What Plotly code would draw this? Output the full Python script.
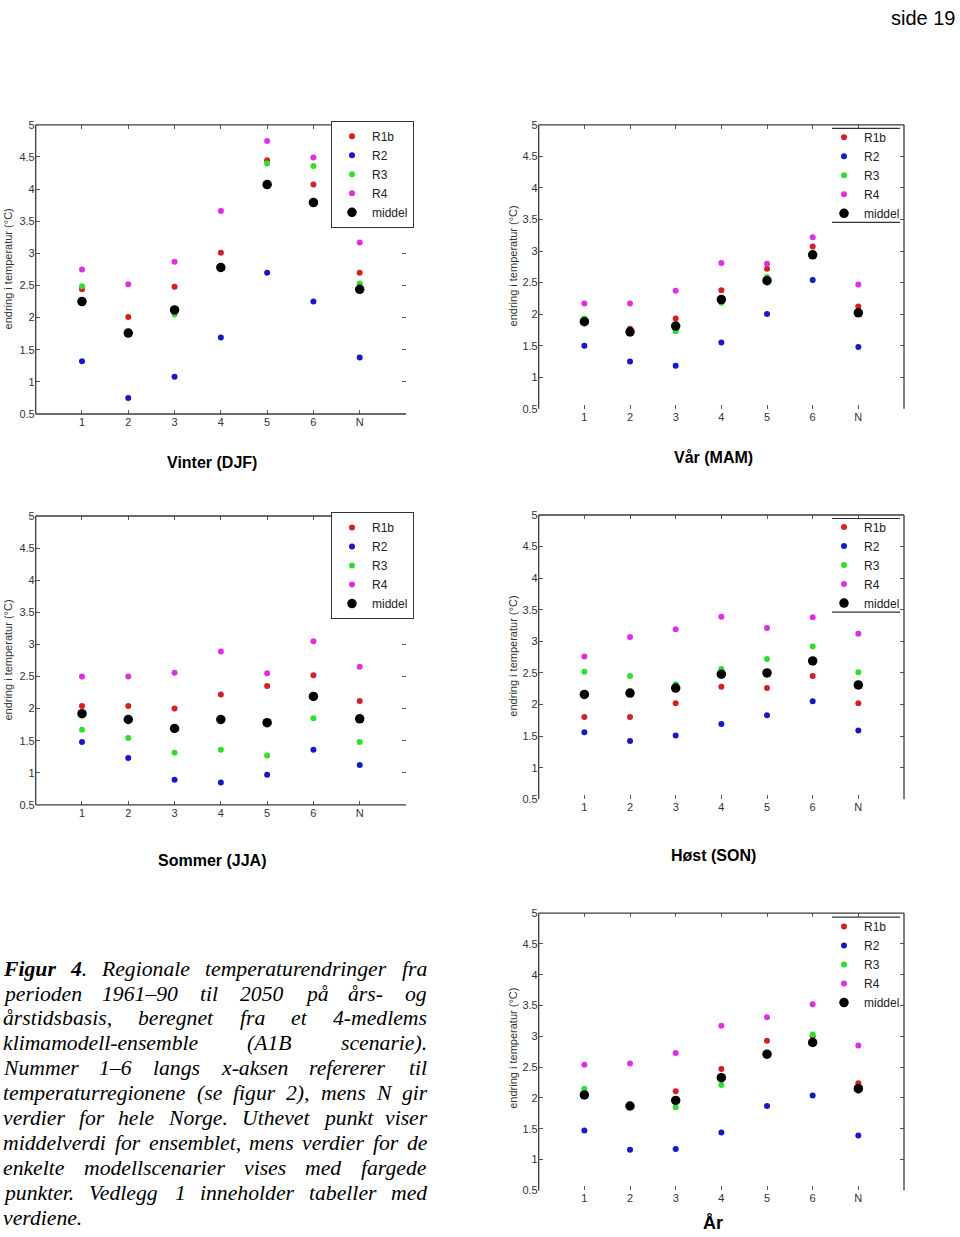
import re
import plotly.graph_objects as go

W, H = 960, 1237

# ---------------- data ----------------
categories = ['1', '2', '3', '4', '5', '6', 'N']
series_names = ['R1b', 'R2', 'R3', 'R4', 'middel']

vinter_R1b = [2.44, 2.01, 2.48, 3.01, 4.45, 4.07, 2.70]
vinter_R2 = [1.32, 0.75, 1.08, 1.69, 2.70, 2.25, 1.38]
vinter_R3 = [2.49, 1.76, 2.05, 2.76, 4.40, 4.36, 2.53]
vinter_R4 = [2.75, 2.52, 2.87, 3.66, 4.75, 4.49, 3.17]
vinter_middel = [2.25, 1.76, 2.12, 2.78, 4.07, 3.79, 2.44]

vaar_R1b = [1.90, 1.77, 1.93, 2.38, 2.72, 3.07, 2.12]
vaar_R2 = [1.50, 1.25, 1.18, 1.55, 2.00, 2.54, 1.48]
vaar_R3 = [1.93, 1.69, 1.73, 2.18, 2.59, 2.93, 2.01]
vaar_R4 = [2.17, 2.17, 2.37, 2.81, 2.80, 3.22, 2.47]
vaar_middel = [1.88, 1.72, 1.81, 2.23, 2.53, 2.94, 2.02]

sommer_R1b = [2.04, 2.04, 2.00, 2.22, 2.35, 2.52, 2.12]
sommer_R2 = [1.48, 1.23, 0.89, 0.85, 0.97, 1.36, 1.12]
sommer_R3 = [1.67, 1.54, 1.31, 1.36, 1.27, 1.85, 1.48]
sommer_R4 = [2.50, 2.50, 2.56, 2.89, 2.55, 3.05, 2.65]
sommer_middel = [1.92, 1.83, 1.69, 1.83, 1.78, 2.19, 1.84]

host_R1b = [1.80, 1.80, 2.02, 2.28, 2.26, 2.45, 2.02]
host_R2 = [1.56, 1.42, 1.51, 1.69, 1.83, 2.05, 1.59]
host_R3 = [2.52, 2.45, 2.32, 2.56, 2.72, 2.92, 2.51]
host_R4 = [2.76, 3.07, 3.19, 3.39, 3.21, 3.38, 3.12]
host_middel = [2.16, 2.18, 2.26, 2.48, 2.50, 2.69, 2.31]

aar_R1b = [2.03, 1.88, 2.11, 2.47, 2.93, 3.00, 2.24]
aar_R2 = [1.47, 1.16, 1.17, 1.44, 1.87, 2.04, 1.39]
aar_R3 = [2.15, 1.88, 1.85, 2.21, 2.73, 3.03, 2.12]
aar_R4 = [2.54, 2.56, 2.73, 3.17, 3.31, 3.52, 2.85]
aar_middel = [2.05, 1.87, 1.96, 2.33, 2.71, 2.90, 2.15]

y_tick_vals = [0.5, 1, 1.5, 2, 2.5, 3, 3.5, 4, 4.5, 5]
y_tick_text = ['0.5', '1', '1.5', '2', '2.5', '3', '3.5', '4', '4.5', '5']
y_title = 'endring i temperatur (°C)'

caption_lines = [
    ['<b>Figur</b>', '<b>4</b>.', 'Regionale', 'temperaturendringer', 'fra'],
    ['perioden', '1961–90', 'til', '2050', 'på', 'års-', 'og'],
    ['årstidsbasis,', 'beregnet', 'fra', 'et', '4-medlems'],
    ['klimamodell-ensemble', '(A1B', 'scenarie).'],
    ['Nummer', '1–6', 'langs', 'x-aksen', 'refererer', 'til'],
    ['temperaturregionene', '(se', 'figur', '2),', 'mens', 'N', 'gir'],
    ['verdier', 'for', 'hele', 'Norge.', 'Uthevet', 'punkt', 'viser'],
    ['middelverdi', 'for', 'ensemblet,', 'mens', 'verdier', 'for', 'de'],
    ['enkelte', 'modellscenarier', 'vises', 'med', 'fargede'],
    ['punkter.', 'Vedlegg', '1', 'inneholder', 'tabeller', 'med'],
    ['verdiene.'],
]

# ---------------- styling ----------------
colors = {'R1b': '#d42020', 'R2': '#1818c8', 'R3': '#2ee02e', 'R4': '#e02ee0', 'middel': '#000000'}
sizes = {'R1b': 6, 'R2': 6, 'R3': 6, 'R4': 6, 'middel': 9.5}


def px_x(x):
    return x / W


def px_y(y):
    return 1 - y / H


panels = [
    dict(title='Vinter (DJF)', series=[vinter_R1b, vinter_R2, vinter_R3, vinter_R4, vinter_middel],
         xd=(35.7, 406), yd=(120, 412), title_pos=(212, 461), title_size=16,
         ytitle_pos=(8, 266), legend=(331, 116), boxed=True, right_line=False, bottom_line=True),
    dict(title='Vår (MAM)', series=[vaar_R1b, vaar_R2, vaar_R3, vaar_R4, vaar_middel],
         xd=(538.7, 904), yd=(120, 406.7), title_pos=(713, 456), title_size=16,
         ytitle_pos=(513, 263), legend=(824, 118), boxed=False, right_line=True, bottom_line=False,
         leg_lines=(832, 900, 123.5, 218.5)),
    dict(title='Sommer (JJA)', series=[sommer_R1b, sommer_R2, sommer_R3, sommer_R4, sommer_middel],
         xd=(35.7, 406), yd=(515, 806.7), title_pos=(212, 863), title_size=16,
         ytitle_pos=(8, 661), legend=(331, 511), boxed=True, right_line=False, bottom_line=True),
    dict(title='Høst (SON)', series=[host_R1b, host_R2, host_R3, host_R4, host_middel],
         xd=(538.7, 904), yd=(514, 801), title_pos=(713, 858), title_size=16,
         ytitle_pos=(513, 657), legend=(824, 511.5), boxed=False, right_line=True, bottom_line=False,
         leg_lines=(832, 900, 517.5, 612)),
    dict(title='År', series=[aar_R1b, aar_R2, aar_R3, aar_R4, aar_middel],
         xd=(538.7, 904), yd=(916, 1196), title_pos=(713, 1229), title_size=18,
         ytitle_pos=(513, 1053), legend=(824, 915), boxed=False, right_line=True, bottom_line=False,
         leg_lines=(832, 900, 920, None)),
]

fig = go.Figure()
xpos = [i + 1 for i in range(len(categories))]
annotations = []
shapes = []
layout_extra = {}

axis_font = dict(family='Liberation Sans, Arial, sans-serif', size=11, color='#333333')
line_color = '#3a3a3a'

for k, p in enumerate(panels):
    n = k + 1
    xa = 'x' if n == 1 else f'x{n}'
    ya = 'y' if n == 1 else f'y{n}'
    leg = 'legend' if n == 1 else f'legend{n}'
    for name, vals in zip(series_names, p['series']):
        fig.add_trace(go.Scatter(
            x=xpos, y=vals, mode='markers', name=name,
            marker=dict(color=colors[name], size=sizes[name], line=dict(width=0)),
            xaxis=xa, yaxis=ya, legend=leg, showlegend=True,
            hovertemplate=name + ': %{y}<extra></extra>'))
    xkey = 'xaxis' if n == 1 else f'xaxis{n}'
    ykey = 'yaxis' if n == 1 else f'yaxis{n}'
    layout_extra[xkey] = dict(
        domain=[px_x(p['xd'][0]), px_x(p['xd'][1])], range=[0, 8], anchor=ya,
        tickmode='array', tickvals=xpos, ticktext=categories,
        ticks='inside', ticklen=4, tickcolor='#555555', tickwidth=1, mirror='ticks',
        showline=False, showgrid=False, zeroline=False, tickfont=axis_font, fixedrange=True)
    layout_extra[ykey] = dict(
        domain=[px_y(p['yd'][1]), px_y(p['yd'][0])], range=[0.5, 5], anchor=xa,
        tickmode='array', tickvals=y_tick_vals, ticktext=y_tick_text,
        ticks='inside', ticklen=4, tickcolor='#555555', tickwidth=1, mirror='ticks',
        showline=False, showgrid=False, zeroline=False, tickfont=axis_font, fixedrange=True)
    # axis box lines
    xr = f'{xa} domain'
    yr = f'{ya} domain'
    segs = [((0, 0), (0, 1)), ((0, 1), (1, 1))]
    if p['bottom_line']:
        segs.append(((0, 0), (1, 0)))
    if p['right_line']:
        segs.append(((1, 0), (1, 1)))
    for (x0, y0), (x1, y1) in segs:
        shapes.append(dict(type='line', xref=xr, yref=yr, x0=x0, y0=y0, x1=x1, y1=y1,
                           line=dict(color=line_color, width=1.3)))
    # legend
    layout_extra[leg] = dict(
        x=px_x(p['legend'][0]), y=px_y(p['legend'][1]), xanchor='left', yanchor='top',
        bgcolor='white' if p['boxed'] else 'rgba(0,0,0,0)',
        bordercolor='#333333', borderwidth=1 if p['boxed'] else 0,
        font=dict(family='Liberation Sans, Arial, sans-serif', size=12, color='#222222'),
        itemsizing='trace', tracegroupgap=0)
    if not p['boxed']:
        lx0, lx1, ly0, ly1 = p['leg_lines']
        for ly in (ly0, ly1):
            if ly is not None:
                shapes.append(dict(type='line', xref='paper', yref='paper',
                                   x0=px_x(lx0), x1=px_x(lx1), y0=px_y(ly), y1=px_y(ly),
                                   line=dict(color='#333333', width=1.2)))
    # titles
    annotations.append(dict(text='<b>' + p['title'] + '</b>', xref='paper', yref='paper',
                            x=px_x(p['title_pos'][0]), y=px_y(p['title_pos'][1]),
                            xanchor='center', yanchor='middle', showarrow=False,
                            font=dict(family='Liberation Sans, Arial, sans-serif',
                                      size=p['title_size'], color='#000000')))
    annotations.append(dict(text=y_title, xref='paper', yref='paper',
                            x=px_x(p['ytitle_pos'][0]), y=px_y(p['ytitle_pos'][1]),
                            xanchor='center', yanchor='middle', showarrow=False, textangle=-90,
                            font=dict(family='Liberation Sans, Arial, sans-serif', size=11,
                                      color='#333333')))

# page number
annotations.append(dict(text='side 19', xref='paper', yref='paper', x=px_x(958), y=px_y(12),
                        xanchor='right', yanchor='middle', showarrow=False,
                        font=dict(family='Liberation Sans, Arial, sans-serif', size=20,
                                  color='#000000')))

# caption, justified word by word (Times italic metrics)
TI = dict(a=500, b=500, c=444, d=500, e=444, f=278, g=500, h=500, i=278, j=278, k=444, l=278,
          m=722, n=500, o=500, p=500, q=500, r=389, s=389, t=278, u=500, v=444, w=667, x=444,
          y=444, z=389, A=611, B=611, C=667, D=722, E=611, F=611, G=722, H=722, I=333, J=444,
          K=667, L=556, M=833, N=667, O=722, P=611, Q=722, R=611, S=500, T=556, U=722, V=611,
          W=833, X=611, Y=556, Z=556)
TI.update({'.': 250, ',': 250, '-': 333, '(': 333, ')': 333, '–': 500, 'å': 500, 'ø': 500})
for dgt in '0123456789':
    TI[dgt] = 500
TBI = dict(TI)
TBI.update(dict(F=667, u=556))

cap_size = 21.7
cap_left, cap_right = 2.0, 426.0
cap_y0, cap_dy = 972.0, 25.2


def text_width(markup, size):
    total = 0
    bold = False
    for part in re.split(r'(</?b>)', markup):
        if part == '<b>':
            bold = True
        elif part == '</b>':
            bold = False
        else:
            for ch in part:
                total += (TBI if bold else TI).get(ch, 500)
    return total / 1000 * size


for li, words in enumerate(caption_lines):
    widths = [text_width(w, cap_size) for w in words]
    last = li == len(caption_lines) - 1
    if len(words) > 1 and not last:
        gap = (cap_right - cap_left - sum(widths)) / (len(words) - 1)
    else:
        gap = 0.25 * cap_size
    xcur = cap_left
    for w, wd in zip(words, widths):
        annotations.append(dict(text='<i>' + w + '</i>', xref='paper', yref='paper',
                                x=px_x(xcur), y=px_y(cap_y0 + li * cap_dy),
                                xanchor='left', yanchor='middle', showarrow=False, borderpad=0,
                                font=dict(family='Liberation Serif, Times New Roman, serif',
                                          size=cap_size, color='#000000')))
        xcur += wd + gap

fig.update_layout(
    width=W, height=H, margin=dict(l=0, r=0, t=0, b=0),
    paper_bgcolor='white', plot_bgcolor='white',
    annotations=annotations, shapes=shapes, **layout_extra)

fig.write_html(
    'out.html',
    config={'displayModeBar': False},
    post_script="document.body.style.margin='0';document.body.style.overflow='hidden';"
                "document.documentElement.style.overflow='hidden';")
